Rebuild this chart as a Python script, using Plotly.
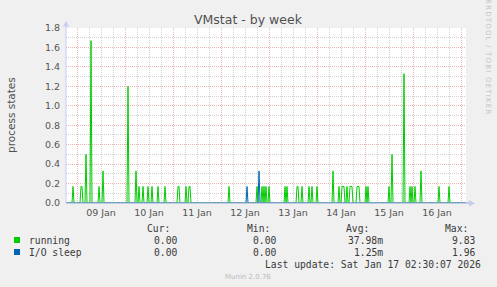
import pandas as pd
import plotly.graph_objects as go

# ---- data (30-minute averages) ----
running_times = [
    "2026-01-08 22:00", "2026-01-09 02:00", "2026-01-09 02:30", "2026-01-09 04:30",
    "2026-01-09 07:00", "2026-01-09 11:00", "2026-01-09 13:00", "2026-01-10 01:30",
    "2026-01-10 05:30", "2026-01-10 07:00", "2026-01-10 09:00", "2026-01-10 11:30",
    "2026-01-10 13:30", "2026-01-10 16:30", "2026-01-10 20:00", "2026-01-11 02:30",
    "2026-01-11 03:00", "2026-01-11 06:30", "2026-01-11 08:00", "2026-01-11 08:30",
    "2026-01-12 04:00", "2026-01-12 18:00", "2026-01-12 20:30", "2026-01-12 21:30",
    "2026-01-12 22:30", "2026-01-13 00:00", "2026-01-13 08:00", "2026-01-13 09:00",
    "2026-01-13 14:00", "2026-01-13 14:30", "2026-01-13 16:30", "2026-01-13 20:00",
    "2026-01-13 21:30", "2026-01-14 00:00", "2026-01-14 08:00", "2026-01-14 11:00",
    "2026-01-14 12:30", "2026-01-14 13:00", "2026-01-14 13:30", "2026-01-14 15:00",
    "2026-01-14 16:30", "2026-01-14 17:00", "2026-01-14 17:30", "2026-01-14 20:00",
    "2026-01-14 20:30", "2026-01-14 21:00", "2026-01-15 00:30", "2026-01-15 01:30",
    "2026-01-15 12:00", "2026-01-15 13:30", "2026-01-15 19:30", "2026-01-15 22:30",
    "2026-01-15 23:30", "2026-01-16 01:00", "2026-01-16 04:00", "2026-01-16 13:00",
    "2026-01-16 18:00",
]
running_values = [
    0.17, 0.17, 0.17, 0.50,
    1.67, 0.17, 0.33, 1.20,
    0.33, 0.17, 0.17, 0.17,
    0.17, 0.17, 0.17, 0.17,
    0.17, 0.17, 0.17, 0.17,
    0.17, 0.17, 0.17, 0.17,
    0.17, 0.17, 0.17, 0.17,
    0.17, 0.17, 0.17, 0.17,
    0.17, 0.17, 0.33, 0.17,
    0.17, 0.17, 0.17, 0.17,
    0.17, 0.17, 0.17, 0.17,
    0.17, 0.17, 0.17, 0.17,
    0.17, 0.50, 1.33, 0.17,
    0.17, 0.17, 0.33, 0.17,
    0.17,
]
io_times = ["2026-01-12 13:00", "2026-01-12 19:00"]
io_values = [0.17, 0.33]

series_names = ["running", "I/O sleep"]
series_colors = ["#00CC00", "#0066B3"]
legend_cur = ["0.00", "0.00"]
legend_min = ["0.00", "0.00"]
legend_avg = ["37.98m", "1.25m"]
legend_max = ["9.83", "1.96"]

t_start = "2026-01-08 18:30"
t_end = "2026-01-17 02:30"
y_ticks = [0.0, 0.2, 0.4, 0.6, 0.8, 1.0, 1.2, 1.4, 1.6, 1.8]

# ---- build full 30-min series (unlisted samples read as 0) ----
grid = pd.date_range(t_start, t_end, freq="30min")


def full_series(times, values):
    s = pd.Series(0.0, index=grid)
    s.loc[pd.to_datetime(times)] = values
    return s


run_s = full_series(running_times, running_values)
io_s = full_series(io_times, io_values)

W, H = 497, 287
L, R, T, B = 66, 31, 28, 84
PW, PH = W - L - R, H - T - B


def px(x):
    return (x - L) / PW


def py(y):
    return (H - B - y) / PH


fig = go.Figure()
for s, name, col in [(run_s, series_names[0], series_colors[0]), (io_s, series_names[1], series_colors[1])]:
    fig.add_trace(go.Scatter(x=s.index, y=s.values, mode="lines", name=name,
                             line=dict(color=col, width=1), hoverinfo="skip"))

tickfont = dict(family="DejaVu Sans", size=9.5, color="#555555")
MAJOR = "#EEB4B4"
MINOR = "#D0D0D0"
DASH = "1px,1px"
fig.update_layout(
    width=W, height=H,
    margin=dict(l=L, r=R, t=T, b=B, pad=0),
    paper_bgcolor="#F0F0F0", plot_bgcolor="#FFFFFF",
    showlegend=False,
    xaxis=dict(
        type="date", range=[t_start, t_end],
        tick0="2026-01-09", dtick=86400000, ticklabelmode="period",
        tickformat="%d %b", tickfont=tickfont, ticks="",
        showgrid=True, gridcolor=MAJOR, griddash=DASH, gridwidth=1,
        minor=dict(dtick=21600000, showgrid=True, gridcolor=MINOR, griddash=DASH, gridwidth=1),
        zeroline=False, showline=False, ticklabelstandoff=2,
    ),
    yaxis=dict(
        range=[0, 1.8], tickvals=y_ticks, tickformat=".1f", tickfont=tickfont, ticks="",
        showgrid=True, gridcolor=MAJOR, griddash=DASH, gridwidth=1,
        minor=dict(dtick=0.1, showgrid=True, gridcolor=MINOR, griddash=DASH, gridwidth=1),
        zeroline=False, showline=False, ticklabelstandoff=5,
    ),
)

# axes and arrows (drawn over the data like rrdtool)
fig.add_shape(type="line", xref="paper", yref="paper", x0=0, x1=px(469), y0=0, y1=0,
              line=dict(color="#9AA6D8", width=1), layer="above")
fig.add_shape(type="line", xref="paper", yref="paper", x0=0, x1=0, y0=0, y1=py(24),
              line=dict(color="#C8CCF2", width=1), layer="above")
fig.add_shape(type="path", xref="paper", yref="paper",
              path=f"M {px(63)} {py(26.5)} L {px(69)} {py(26.5)} L {px(66)} {py(21)} Z",
              fillcolor="#C8CCF2", line=dict(width=0), layer="above")
fig.add_shape(type="path", xref="paper", yref="paper",
              path=f"M {px(469)} {py(200)} L {px(469)} {py(206.5)} L {px(475)} {py(203.2)} Z",
              fillcolor="#C8CCF2", line=dict(width=0), layer="above")


def ann(text, x, y, size=9.7, color="#3A3A3A", family="DejaVu Sans Mono", xanchor="left", angle=0):
    fig.add_annotation(text=text, x=px(x), y=py(y), xref="paper", yref="paper",
                       xanchor=xanchor, yanchor="middle", showarrow=False, textangle=angle,
                       font=dict(family=family, size=size, color=color))


ann("VMstat - by week", 248, 19, size=12.5, color="#505050", family="DejaVu Sans", xanchor="center")
ann("process states", 11, 115, size=10.5, color="#505050", family="DejaVu Sans", xanchor="center", angle=-90)
ann('<span style="letter-spacing:1.2px">RRDTOOL / TOBI OETIKER</span>', 488, 57, size=7,
    color="#C4C4C4", family="DejaVu Sans", xanchor="center", angle=90)

# legend table
ann("Cur:", 172, 228, xanchor="right")
ann("Min:", 272, 228, xanchor="right")
ann("Avg:", 371, 228, xanchor="right")
ann("Max:", 470, 228, xanchor="right")
rows_y = [240, 252]
for i in range(2):
    y = rows_y[i]
    fig.add_shape(type="rect", xref="paper", yref="paper",
                  x0=px(14), x1=px(20), y0=py(y + 3), y1=py(y - 3),
                  fillcolor=series_colors[i], line=dict(width=0))
    ann(series_names[i], 27, y)
    ann(legend_cur[i], 179, y, xanchor="right")
    ann(legend_min[i], 278, y, xanchor="right")
    ann(legend_avg[i], 385, y, xanchor="right")
    ann(legend_max[i], 477, y, xanchor="right")
ann("Last update: Sat Jan 17 02:30:07 2026", 483, 264, xanchor="right")
ann("Munin 2.0.76", 248, 277, size=7, color="#BBBBBB", family="DejaVu Sans", xanchor="center")

fig.write_html("out.html")
